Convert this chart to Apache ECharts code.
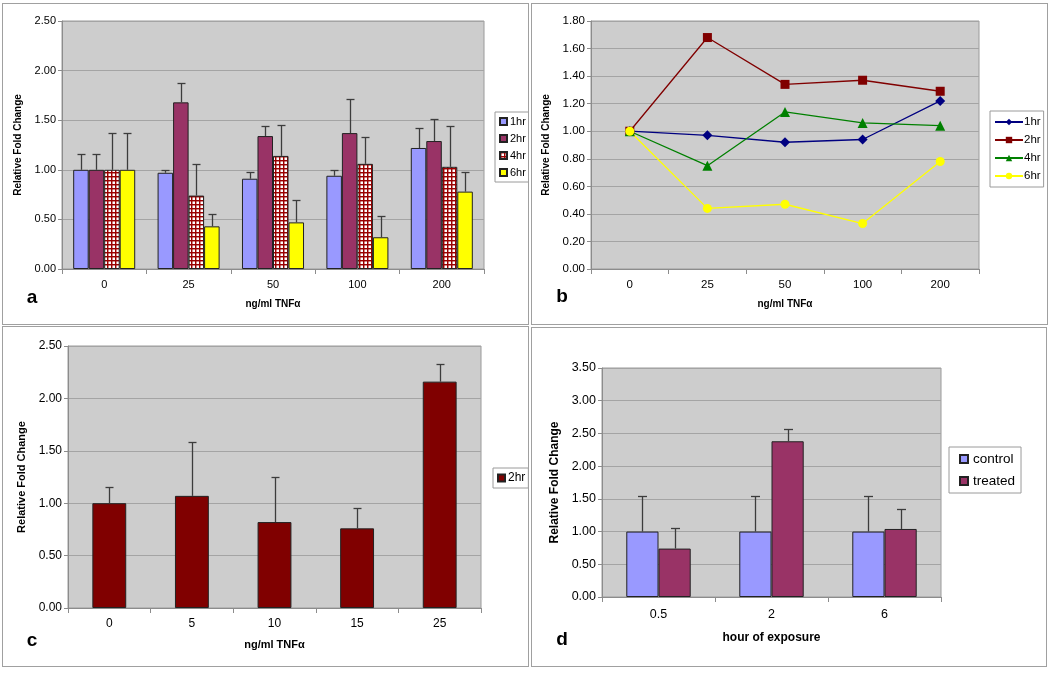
<!DOCTYPE html>
<html>
<head>
<meta charset="utf-8">
<script src="https://cdn.jsdelivr.net/npm/echarts@6/dist/echarts.min.js"></script>
<style>
body { margin: 0; background: #fff; }
.panel { position: absolute; border: 1px solid #a0a0a0; box-sizing: border-box; }
.chart { position: absolute; left: 0; top: 0; right: 0; bottom: 0; }
</style>
</head>
<body>
<div class="panel" style="left:2px;top:3px;width:527px;height:322px"><div id="pa" class="chart"></div></div>
<div class="panel" style="left:531px;top:3px;width:517px;height:322px"><div id="pb" class="chart"></div></div>
<div class="panel" style="left:2px;top:326px;width:527px;height:341px"><div id="pc" class="chart"></div></div>
<div class="panel" style="left:531px;top:327px;width:516px;height:340px"><div id="pd" class="chart"></div></div>
<script>
// panel a : bars with SD per time point
var doses = ['0', '25', '50', '100', '200'];
var hr1 = [1.00, 0.97, 0.91, 0.94, 1.22];
var hr2 = [1.00, 1.68, 1.34, 1.37, 1.29];
var hr4 = [1.00, 0.74, 1.14, 1.06, 1.03];
var hr6 = [1.00, 0.43, 0.47, 0.32, 0.78];
var err1 = [0.16, 0.03, 0.07, 0.06, 0.20];
var err2 = [0.16, 0.20, 0.10, 0.34, 0.22];
var err4 = [0.37, 0.32, 0.31, 0.27, 0.41];
var err6 = [0.37, 0.12, 0.23, 0.21, 0.20];

// panel b : same means as lines
var line1 = [1.00, 0.97, 0.92, 0.94, 1.22];
var line2 = [1.00, 1.68, 1.34, 1.37, 1.29];
var line4 = [1.00, 0.75, 1.14, 1.06, 1.04];
var line6 = [1.00, 0.44, 0.47, 0.33, 0.78];

// panel c
var dosesC = ['0', '5', '10', '15', '25'];
var valsC = [1.00, 1.07, 0.82, 0.76, 2.16];
var errC = [0.15, 0.51, 0.43, 0.19, 0.17];

// panel d
var hoursD = ['0.5', '2', '6'];
var controlD = [1.00, 1.00, 1.00];
var controlErrD = [0.55, 0.55, 0.55];
var treatedD = [0.74, 2.38, 1.04];
var treatedErrD = [0.32, 0.19, 0.31];

var FONT = 'Liberation Sans, Arial, sans-serif';

function hatch() {
  var c = document.createElement('canvas');
  c.width = 4; c.height = 4;
  var g = c.getContext('2d');
  g.fillStyle = '#fff'; g.fillRect(0, 0, 4, 4);
  g.fillStyle = 'rgba(154,0,0,0.45)';
  g.fillRect(0, 1, 4, 1);
  g.fillRect(1, 0, 1, 4);
  g.fillStyle = '#9a0000';
  g.fillRect(0, 0, 4, 1);
  g.fillRect(0, 0, 1, 4);
  return c;
}

// upper error bar drawn at the centre of bar i of n in a group
function errBar(i, n, catGap, capW) {
  return function (params, api) {
    var band = api.size([1, 0])[0];
    var total = band * (1 - catGap);
    var bw = total / n;
    var dx = -total / 2 + bw * (i + 0.5);
    var p0 = api.coord([api.value(0), api.value(1)]);
    var p1 = api.coord([api.value(0), api.value(1) + api.value(2)]);
    var x = Math.round(p0[0] + dx) + 0.5;
    var y1 = Math.round(p1[1]) + 0.5;
    var st = { stroke: '#3c3c3c', lineWidth: 1.3 };
    return {
      type: 'group',
      children: [
        { type: 'line', shape: { x1: x, y1: p0[1], x2: x, y2: y1 }, style: st },
        { type: 'line', shape: { x1: x - capW / 2, y1: y1, x2: x + capW / 2, y2: y1 }, style: st }
      ]
    };
  };
}

function errData(vals, errs) {
  return vals.map(function (v, k) { return [k, v, errs[k]]; });
}

function axes(cfg) {
  return {
    xAxis: {
      type: 'category', data: cfg.cats,
      name: cfg.xName, nameLocation: 'middle', nameGap: cfg.xGap,
      nameTextStyle: { fontFamily: FONT, fontWeight: 'bold', fontSize: cfg.nameSize, color: '#000' },
      axisLine: { lineStyle: { color: '#8c8c8c' } },
      axisTick: { show: true, length: 5, lineStyle: { color: '#8c8c8c' } },
      axisLabel: { fontFamily: FONT, fontSize: cfg.labelSize, color: '#000', margin: cfg.xMargin }
    },
    yAxis: {
      type: 'value', min: 0, max: cfg.max, interval: cfg.step,
      name: 'Relative Fold Change', nameLocation: 'middle', nameGap: cfg.yGap,
      nameTextStyle: { fontFamily: FONT, fontWeight: 'bold', fontSize: cfg.nameSize, color: '#000' },
      axisLine: { show: true, lineStyle: { color: '#8c8c8c' } },
      axisTick: { show: true, length: 4, lineStyle: { color: '#8c8c8c' } },
      splitLine: { lineStyle: { color: '#a4a4a4', width: 1 } },
      axisLabel: {
        fontFamily: FONT, fontSize: cfg.labelSize, color: '#000', margin: 6,
        formatter: function (v) { return v.toFixed(2); }
      }
    }
  };
}

function letter(t, x, y) {
  return { type: 'text', x: x, y: y, style: { text: t, font: 'bold 19px ' + FONT, fill: '#000', textAlign: 'center', textVerticalAlign: 'middle' } };
}

function legendBox(o) {
  return Object.assign({
    orient: 'vertical', backgroundColor: '#fff', borderColor: '#9a9a9a', borderWidth: 1,
    itemWidth: 7, itemHeight: 7, icon: 'rect', itemGap: 6, padding: [4, 3, 4, 4],
    textStyle: { fontFamily: FONT, fontSize: 11, color: '#000', padding: [0, 0, 0, -2] }
  }, o);
}

var barBorder = { borderColor: '#222', borderWidth: 1 };

// ---------- a ----------
var gapA = 0.265;
var ca = echarts.init(document.getElementById('pa'));
var axA = axes({ cats: doses, xName: 'ng/ml TNF\u03b1', xGap: 30, yGap: 36, nameSize: 10, labelSize: 11, xMargin: 10, max: 2.5, step: 0.5 });
var namesA = ['1hr', '2hr', '4hr', '6hr'];
var valsA = [hr1, hr2, hr4, hr6];
var errsA = [err1, err2, err4, err6];
var colA = ['#9999ff', '#993366', { image: hatch(), repeat: 'repeat' }, '#ffff00'];
var seriesA = [];
namesA.forEach(function (nm, i) {
  seriesA.push({ name: nm, type: 'bar', data: valsA[i], barGap: 0, barCategoryGap: (gapA * 100) + '%',
    itemStyle: Object.assign({ color: colA[i] }, barBorder) });
});
namesA.forEach(function (nm, i) {
  seriesA.push({ type: 'custom', data: errData(valsA[i], errsA[i]), renderItem: errBar(i, 4, gapA, 8), z: 5, silent: true });
});
ca.setOption({
  animation: false,
  grid: { left: 59, top: 17, width: 422, height: 248, show: true, backgroundColor: '#cdcdcd', borderColor: '#9a9a9a' },
  xAxis: axA.xAxis, yAxis: axA.yAxis,
  legend: legendBox({ left: 492, top: 108, data: namesA }),
  graphic: [letter('a', 29, 294)],
  series: seriesA
});

// ---------- b ----------
var cb = echarts.init(document.getElementById('pb'));
var axB = axes({ cats: doses, xName: 'ng/ml TNF\u03b1', xGap: 30, yGap: 36, nameSize: 10, labelSize: 11.5, xMargin: 10, max: 1.8, step: 0.2 });
var lineDefs = [
  { name: '1hr', data: line1, color: '#000080', symbol: 'diamond', size: 10 },
  { name: '2hr', data: line2, color: '#800000', symbol: 'rect', size: 9 },
  { name: '4hr', data: line4, color: '#008000', symbol: 'triangle', size: 10 },
  { name: '6hr', data: line6, color: '#ffff00', symbol: 'circle', size: 9 }
];
cb.setOption({
  animation: false,
  grid: { left: 59, top: 17, width: 388, height: 248, show: true, backgroundColor: '#cdcdcd', borderColor: '#9a9a9a' },
  xAxis: axB.xAxis, yAxis: axB.yAxis,
  legend: legendBox({ left: 458, top: 107, data: lineDefs.map(function (d) { return d.name; }), icon: null,
    itemWidth: 28, itemHeight: 8, itemGap: 6, padding: [5, 3, 5, 4],
    textStyle: { fontFamily: FONT, fontSize: 11.5, color: '#000', padding: [0, 0, 0, -4] } }),
  graphic: [letter('b', 30, 293)],
  series: lineDefs.map(function (d) {
    return { name: d.name, type: 'line', data: d.data, symbol: d.symbol, symbolSize: d.size,
      lineStyle: { color: d.color, width: 1.3 }, itemStyle: { color: d.color } };
  })
});

// ---------- c ----------
var gapC = 0.59;
var cc = echarts.init(document.getElementById('pc'));
var axC = axes({ cats: dosesC, xName: 'ng/ml TNF\u03b1', xGap: 31, yGap: 38, nameSize: 11, labelSize: 12, xMargin: 10, max: 2.5, step: 0.5 });
cc.setOption({
  animation: false,
  grid: { left: 65, top: 19, width: 413, height: 262, show: true, backgroundColor: '#cdcdcd', borderColor: '#9a9a9a' },
  xAxis: axC.xAxis, yAxis: axC.yAxis,
  legend: legendBox({ left: 490, top: 141, data: ['2hr'], textStyle: { fontFamily: FONT, fontSize: 12, color: '#000', padding: [0, 0, 0, -2] } }),
  graphic: [letter('c', 29, 314)],
  series: [
    { name: '2hr', type: 'bar', data: valsC, barCategoryGap: (gapC * 100) + '%', itemStyle: Object.assign({ color: '#800000' }, barBorder) },
    { type: 'custom', data: errData(valsC, errC), renderItem: errBar(0, 1, gapC, 8), z: 5, silent: true }
  ]
});

// ---------- d ----------
var gapD = 0.43;
var cd = echarts.init(document.getElementById('pd'));
var axD = axes({ cats: hoursD, xName: 'hour of exposure', xGap: 35, yGap: 40, nameSize: 12, labelSize: 12.5, xMargin: 11, max: 3.5, step: 0.5 });
cd.setOption({
  animation: false,
  grid: { left: 70, top: 40, width: 339, height: 229, show: true, backgroundColor: '#cdcdcd', borderColor: '#9a9a9a' },
  xAxis: axD.xAxis, yAxis: axD.yAxis,
  legend: legendBox({ left: 417, top: 119, data: ['control', 'treated'], itemWidth: 8, itemHeight: 8, itemGap: 8, padding: [5, 6, 5, 10],
    textStyle: { fontFamily: FONT, fontSize: 13.5, color: '#000' } }),
  graphic: [letter('d', 30, 312)],
  series: [
    { name: 'control', type: 'bar', data: controlD, barGap: 0, barCategoryGap: (gapD * 100) + '%', itemStyle: Object.assign({ color: '#9999ff' }, barBorder) },
    { name: 'treated', type: 'bar', data: treatedD, barGap: 0, barCategoryGap: (gapD * 100) + '%', itemStyle: Object.assign({ color: '#993366' }, barBorder) },
    { type: 'custom', data: errData(controlD, controlErrD), renderItem: errBar(0, 2, gapD, 9), z: 5, silent: true },
    { type: 'custom', data: errData(treatedD, treatedErrD), renderItem: errBar(1, 2, gapD, 9), z: 5, silent: true }
  ]
});
</script>
</body>
</html>
